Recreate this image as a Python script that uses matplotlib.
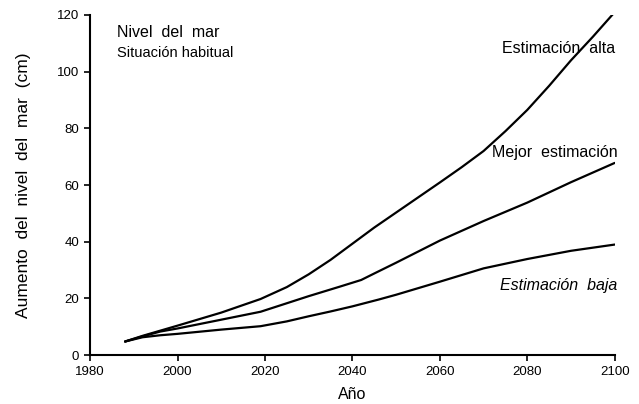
import matplotlib.pyplot as plt

plt.rcParams['font.family'] = ['Liberation Sans', 'DejaVu Sans']

# Valores
anios_alta = [1988, 1992, 1996, 2000, 2010, 2019, 2025, 2030, 2035, 2040, 2045, 2050, 2055, 2060, 2065, 2070, 2075, 2080, 2085, 2090, 2095, 2100]
alta = [4.8, 6.8, 8.6, 10.4, 15.0, 19.8, 24.0, 28.5, 33.6, 39.3, 45.0, 50.3, 55.6, 60.9, 66.3, 72.0, 79.0, 86.5, 95.0, 104.0, 112.3, 121.0]

anios_media = [1988, 1992, 1996, 2000, 2010, 2019, 2025, 2030, 2037, 2042, 2045, 2050, 2055, 2060, 2070, 2080, 2090, 2100]
media = [4.8, 6.6, 8.3, 9.4, 12.5, 15.3, 18.3, 20.8, 24.1, 26.5, 28.8, 32.6, 36.5, 40.4, 47.3, 53.8, 61.0, 67.8]

anios_baja = [1988, 1992, 1996, 2000, 2010, 2019, 2025, 2030, 2035, 2040, 2046, 2050, 2060, 2070, 2080, 2090, 2100]
baja = [4.8, 6.3, 7.0, 7.5, 9.0, 10.2, 11.9, 13.7, 15.4, 17.2, 19.6, 21.3, 25.9, 30.6, 33.9, 36.8, 39.0]

xticks = [1980, 2000, 2020, 2040, 2060, 2080, 2100]
yticks = [0, 20, 40, 60, 80, 100, 120]

fig = plt.figure(figsize=(6.39, 4.04), dpi=100)
ax = fig.add_axes([0.141, 0.121, 0.821, 0.842])

for x, y in [(anios_alta, alta), (anios_media, media), (anios_baja, baja)]:
    ax.plot(x, y, color='black', linewidth=1.6, solid_capstyle='round',
            solid_joinstyle='round')

ax.set_xlim(1980, 2100)
ax.set_ylim(0, 120)
ax.set_xticks(xticks)
ax.set_yticks(yticks)
ax.spines['top'].set_visible(False)
ax.spines['right'].set_visible(False)
ax.spines['left'].set_linewidth(1.5)
ax.spines['bottom'].set_linewidth(1.5)
ax.tick_params(direction='out', length=4, width=1.2, labelsize=9.5,
               colors='black', pad=4)

ax.set_xlabel('Año', fontsize=11.5)
ax.xaxis.set_label_coords(0.5, -0.095)
ax.set_ylabel('Aumento  del  nivel  del  mar  (cm)', fontsize=12.5)
ax.yaxis.set_label_coords(-0.112, 0.5)

ax.text(1986.2, 112.2, 'Nivel  del  mar', fontsize=11.5)
ax.text(1986.2, 105.2, 'Situación habitual', fontsize=10.5)
ax.text(2100.2, 108.0, 'Estimación  alta', fontsize=11.5, ha='right', va='center')
ax.text(2100.7, 71.6, 'Mejor  estimación', fontsize=11.5, ha='right', va='center')
ax.text(2100.5, 24.7, 'Estimación  baja', fontsize=11.5, ha='right', va='center',
        style='italic')

fig.savefig('out.png', dpi=100)
